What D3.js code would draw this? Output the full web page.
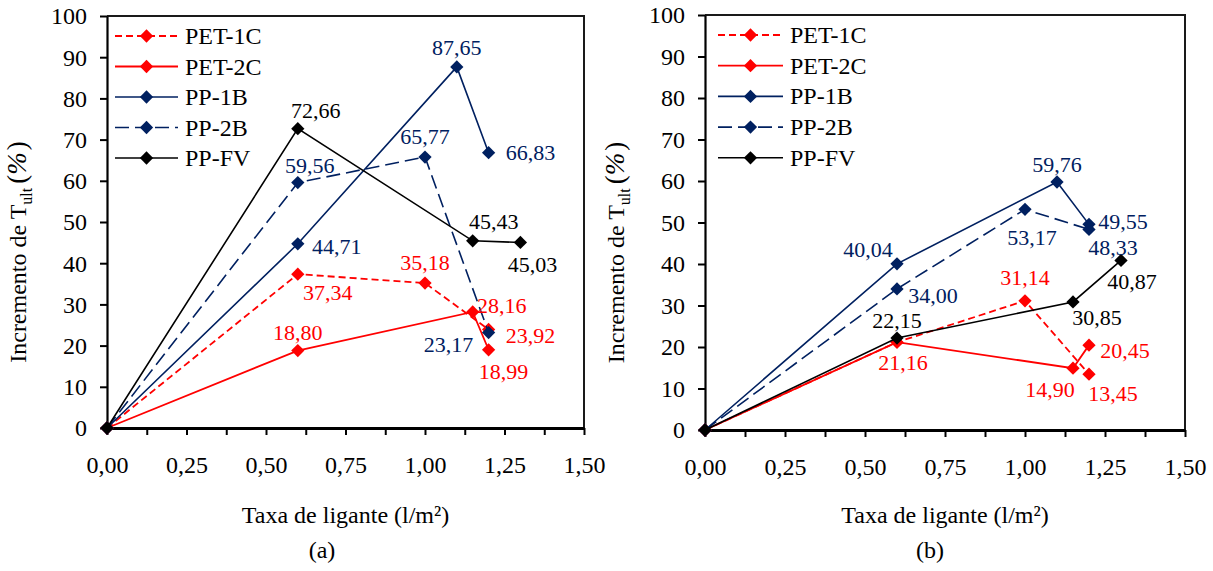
<!DOCTYPE html>
<html>
<head>
<meta charset="utf-8">
<script src="https://cdn.jsdelivr.net/npm/d3@7"></script>
<style>
  body { margin: 0; background: #fff; }
  svg text { font-family: "Liberation Serif", "Times New Roman", serif; }
</style>
</head>
<body>
<svg id="chart" width="1213" height="571"></svg>
<script>
// Series names and binder rates (l/m²) — shared by both panels
const seriesNames = ["PET-1C", "PET-2C", "PP-1B", "PP-2B", "PP-FV"];
const xPET1C = [0, 0.6, 1.0, 1.2];
const xPET2C = [0, 0.6, 1.15, 1.2];
const xPP1B  = [0, 0.6, 1.1, 1.2];
const xPP2B  = [0, 0.6, 1.0, 1.2];
const xPPFV  = [0, 0.6, 1.15, 1.3];

// Panel (a): increase of T_ult (%)
const yA_PET1C = [0, 37.34, 35.18, 23.92];
const yA_PET2C = [0, 18.80, 28.16, 18.99];
const yA_PP1B  = [0, 44.71, 87.65, 66.83];
const yA_PP2B  = [0, 59.56, 65.77, 23.17];
const yA_PPFV  = [0, 72.66, 45.43, 45.03];

// Panel (b): increase of T_ult (%)
const yB_PET1C = [0, 21.16, 31.14, 13.45];
const yB_PET2C = [0, 21.16, 14.90, 20.45];
const yB_PP1B  = [0, 40.04, 59.76, 49.55];
const yB_PP2B  = [0, 34.00, 53.17, 48.33];
const yB_PPFV  = [0, 22.15, 30.85, 40.87];

// Axis ticks
const xTickValues = [0, 0.125, 0.25, 0.375, 0.5, 0.625, 0.75, 0.875, 1.0, 1.125, 1.25, 1.375, 1.5];
const xLabelValues = [0, 0.25, 0.5, 0.75, 1.0, 1.25, 1.5];
const yTickValues = [0, 10, 20, 30, 40, 50, 60, 70, 80, 90, 100];

// Series styling
const seriesColors = ["#ff0000", "#ff0000", "#002060", "#002060", "#000000"];
const seriesDash = ["7,4", null, null, "14,6", null];
const seriesWidth = [1.8, 1.8, 1.6, 1.6, 1.6];

// Value-label placement relative to each marker (px); null = no label
const labelPlaceA = [
  [null, [30, 18], [0, -21], [42, 6]],
  [null, [0, -18], [29, -6], [15, 22]],
  [null, [39, 3], [0, -19], [42, 0]],
  [null, [12, -17], [0, -21], [-40, 12]],
  [null, [18, -18], [21, -19], [12, 22]]
];
const labelPlaceB = [
  [null, null, [0, -23], [24, 19]],
  [null, [6, 20], [-23, 21], [36, 5]],
  [null, [-29, -14], [0, -17], [34, -3]],
  [null, [36, 7], [7, 28], [24, 18]],
  [null, [0, -18], [24, 16], [11, 21]]
];

const xSeries = [xPET1C, xPET2C, xPP1B, xPP2B, xPPFV];
const ySeriesA = [yA_PET1C, yA_PET2C, yA_PP1B, yA_PP2B, yA_PPFV];
const ySeriesB = [yB_PET1C, yB_PET2C, yB_PP1B, yB_PP2B, yB_PPFV];

const locale = d3.formatLocale({ decimal: ",", thousands: ".", grouping: [3], currency: ["", ""] });
const fmt2 = locale.format(".2f");

const svg = d3.select("#chart");

function drawPanel(box, ySeries, labelPlace, legend, caption, captionX) {
  const x = d3.scaleLinear().domain([0, 1.5]).range([box.left, box.right]);
  const y = d3.scaleLinear().domain([0, 100]).range([box.bottom, box.top]);
  const g = svg.append("g");

  // frame (top and right border)
  g.append("path")
    .attr("d", `M${box.left},${box.top}H${box.right}V${box.bottom}`)
    .attr("fill", "none").attr("stroke", "#1a1a1a").attr("stroke-width", 2);

  // y axis
  const yAxis = g.append("g")
    .attr("transform", `translate(${box.left},0)`)
    .call(d3.axisLeft(y).tickValues(yTickValues).tickSize(7).tickSizeOuter(0).tickPadding(13).tickFormat(d3.format("d")));
  yAxis.select(".domain").attr("stroke", "#000").attr("stroke-width", 2.2);
  yAxis.selectAll(".tick line").attr("stroke", "#000").attr("stroke-width", 2);
  yAxis.selectAll(".tick text").attr("font-size", 24).attr("fill", "#000").attr("dy", "0.33em");

  // x axis
  const xAxis = g.append("g")
    .attr("transform", `translate(0,${box.bottom})`)
    .call(d3.axisBottom(x).tickValues(xTickValues).tickSize(7).tickSizeOuter(0)
      .tickFormat(d => xLabelValues.some(v => Math.abs(v - d) < 1e-9) ? fmt2(d) : ""));
  xAxis.select(".domain").attr("stroke", "#000").attr("stroke-width", 3);
  xAxis.selectAll(".tick line").attr("stroke", "#000").attr("stroke-width", 2);
  xAxis.selectAll(".tick text").attr("font-size", 24).attr("fill", "#000")
    .attr("y", 45).attr("dy", 0);

  // axis titles
  const yt = g.append("text")
    .attr("transform", `translate(${box.left - 81},${(box.top + box.bottom) / 2 + 30}) rotate(-90)`)
    .attr("text-anchor", "middle").attr("font-size", 24).attr("fill", "#000");
  yt.append("tspan").text("Incremento de T");
  yt.append("tspan").attr("font-size", 16).attr("dy", 6).text("ult");
  yt.append("tspan").attr("dy", -6).attr("dx", 4).attr("font-size", 27).text("(");
  yt.append("tspan").attr("font-size", 27).attr("font-style", "italic").text("%");
  yt.append("tspan").attr("font-size", 27).attr("dx", 2).text(")");

  g.append("text")
    .attr("x", (box.left + box.right) / 2).attr("y", 523)
    .attr("text-anchor", "middle").attr("font-size", 24).attr("fill", "#000")
    .text("Taxa de ligante (l/m²)");
  g.append("text")
    .attr("x", captionX).attr("y", 558)
    .attr("text-anchor", "middle").attr("font-size", 24).attr("fill", "#000")
    .text(caption);

  const diamond = d3.symbol().type(d3.symbolSquare).size(88);
  const line = d3.line().x(d => x(d[0])).y(d => y(d[1]));

  // series lines and markers
  seriesNames.forEach((name, i) => {
    const pts = xSeries[i].map((xv, k) => [xv, ySeries[i][k]]);
    g.append("path").datum(pts)
      .attr("d", line).attr("fill", "none")
      .attr("stroke", seriesColors[i]).attr("stroke-width", seriesWidth[i])
      .attr("stroke-dasharray", seriesDash[i]);
    g.selectAll(null).data(pts).join("path")
      .attr("d", diamond)
      .attr("transform", d => `translate(${x(d[0])},${y(d[1])}) rotate(45)`)
      .attr("fill", seriesColors[i]);
  });

  // value labels
  seriesNames.forEach((name, i) => {
    const pts = xSeries[i].map((xv, k) => ({ x: xv, y: ySeries[i][k], p: labelPlace[i][k] }))
      .filter(d => d.p);
    g.selectAll(null).data(pts).join("text")
      .attr("x", d => x(d.x) + d.p[0])
      .attr("y", d => y(d.y) + d.p[1] + 7.5)
      .attr("text-anchor", "middle").attr("font-size", 22)
      .attr("fill", seriesColors[i])
      .text(d => fmt2(d.y));
  });

  // legend
  seriesNames.forEach((name, i) => {
    const ly = legend.y0 + i * legend.step;
    g.append("line")
      .attr("x1", legend.x0).attr("x2", legend.x1).attr("y1", ly).attr("y2", ly)
      .attr("stroke", seriesColors[i]).attr("stroke-width", seriesWidth[i])
      .attr("stroke-dasharray", seriesDash[i]);
    g.append("path").attr("d", diamond)
      .attr("transform", `translate(${(legend.x0 + legend.x1) / 2},${ly}) rotate(45)`)
      .attr("fill", seriesColors[i]);
    g.append("text")
      .attr("x", legend.x1 + 7).attr("y", ly + 8)
      .attr("font-size", 24).attr("fill", "#000").text(name);
  });
}

drawPanel({ left: 107, right: 584, top: 16, bottom: 428 }, ySeriesA, labelPlaceA,
  { x0: 115, x1: 178, y0: 36, step: 30.5 }, "(a)", 322);
drawPanel({ left: 705, right: 1185, top: 15, bottom: 430 }, ySeriesB, labelPlaceB,
  { x0: 718, x1: 783, y0: 35, step: 30.7 }, "(b)", 930);
</script>
</body>
</html>
